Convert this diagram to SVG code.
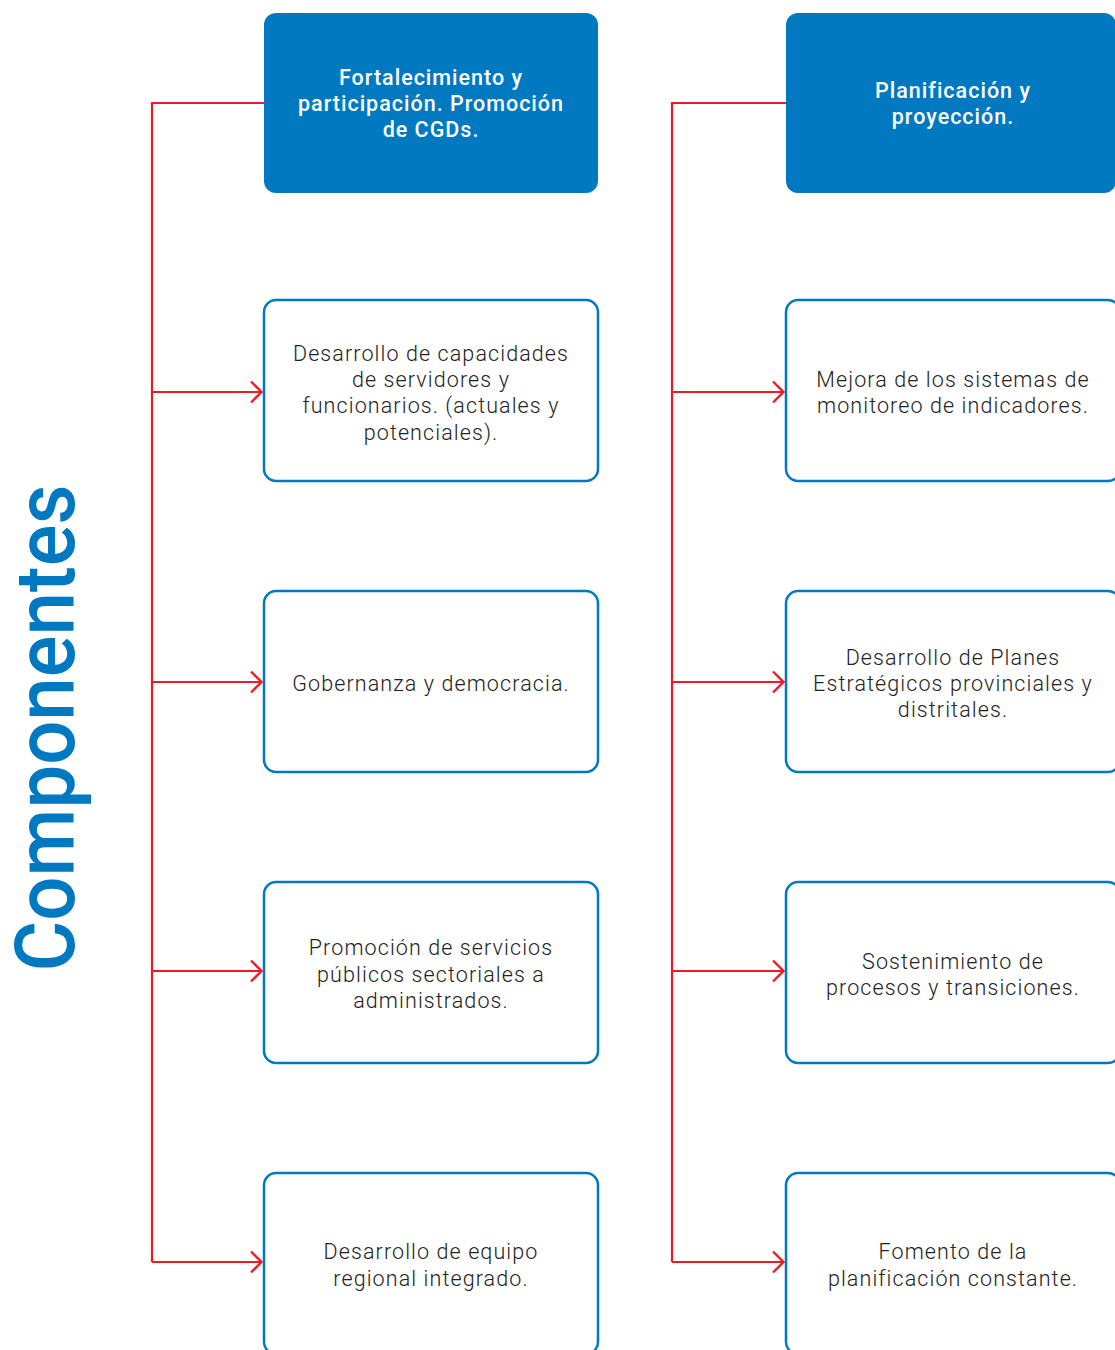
<svg xmlns="http://www.w3.org/2000/svg" width="1115" height="1350" viewBox="0 0 1115 1350">
<defs>
<style>
.hdr{fill:#0079C1;}
.box{fill:#fff;stroke:#0079C1;stroke-width:2.5;}
.ht{font-family:Roboto,"Liberation Sans",sans-serif;font-size:21.5px;font-weight:500;letter-spacing:1px;fill:#fff;text-anchor:middle;}
.bt{font-family:Roboto,"Liberation Sans",sans-serif;font-size:21.5px;font-weight:300;letter-spacing:1.1px;fill:#222;text-anchor:middle;}
.ln{fill:none;stroke:#EC1C24;stroke-width:2.2;}
.title{font-family:Roboto,"Liberation Sans",Arial,sans-serif;font-size:84px;font-weight:500;fill:#0079C1;text-anchor:middle;}
</style>
<marker id="arr" markerUnits="userSpaceOnUse" markerWidth="14" markerHeight="24" refX="12" refY="12" orient="auto">
<path d="M1,1.5 L11.5,12 L1,22.5" fill="none" stroke="#EC1C24" stroke-width="2.4"/>
</marker>
</defs>
<rect width="1115" height="1350" fill="#fff"/>
<text class="title" transform="translate(74,728) rotate(-90)" textLength="487" lengthAdjust="spacingAndGlyphs">Componentes</text>
<g id="connectors">
<path class="ln" d="M264,103 H152 V1262"/>
<path class="ln" d="M152,392 H262" marker-end="url(#arr)"/>
<path class="ln" d="M152,682 H262" marker-end="url(#arr)"/>
<path class="ln" d="M152,971 H262" marker-end="url(#arr)"/>
<path class="ln" d="M152,1262 H262" marker-end="url(#arr)"/>
<path class="ln" d="M786,103 H672 V1262"/>
<path class="ln" d="M672,392 H784" marker-end="url(#arr)"/>
<path class="ln" d="M672,682 H784" marker-end="url(#arr)"/>
<path class="ln" d="M672,971 H784" marker-end="url(#arr)"/>
<path class="ln" d="M672,1262 H784" marker-end="url(#arr)"/>
</g>
<g id="n-fortalecimiento">
<rect class="hdr" x="264" y="13" width="334" height="180" rx="12"/>
<text class="ht" x="431" y="85">Fortalecimiento y</text>
<text class="ht" x="431" y="111">participación. Promoción</text>
<text class="ht" x="431" y="137">de CGDs.</text>
</g>
<g id="n-capacidades">
<rect class="box" x="264" y="300" width="334" height="181" rx="12"/>
<text class="bt" x="431" y="361">Desarrollo de capacidades</text>
<text class="bt" x="431" y="387">de servidores y</text>
<text class="bt" x="431" y="413">funcionarios. (actuales y</text>
<text class="bt" x="431" y="440">potenciales).</text>
</g>
<g id="n-gobernanza">
<rect class="box" x="264" y="591" width="334" height="181" rx="12"/>
<text class="bt" x="431" y="691">Gobernanza y democracia.</text>
</g>
<g id="n-servicios">
<rect class="box" x="264" y="882" width="334" height="181" rx="12"/>
<text class="bt" x="431" y="955">Promoción de servicios</text>
<text class="bt" x="431" y="982">públicos sectoriales a</text>
<text class="bt" x="431" y="1008">administrados.</text>
</g>
<g id="n-equipo">
<rect class="box" x="264" y="1173" width="334" height="181" rx="12"/>
<text class="bt" x="431" y="1259">Desarrollo de equipo</text>
<text class="bt" x="431" y="1286">regional integrado.</text>
</g>
<g id="n-planificacion">
<rect class="hdr" x="786" y="13" width="330" height="180" rx="12"/>
<text class="ht" x="953" y="98">Planificación y</text>
<text class="ht" x="953" y="124">proyección.</text>
</g>
<g id="n-monitoreo">
<rect class="box" x="786" y="300" width="334" height="181" rx="12"/>
<text class="bt" x="953" y="387">Mejora de los sistemas de</text>
<text class="bt" x="953" y="413">monitoreo de indicadores.</text>
</g>
<g id="n-planes">
<rect class="box" x="786" y="591" width="334" height="181" rx="12"/>
<text class="bt" x="953" y="665">Desarrollo de Planes</text>
<text class="bt" x="953" y="691">Estratégicos provinciales y</text>
<text class="bt" x="953" y="717">distritales.</text>
</g>
<g id="n-sostenimiento">
<rect class="box" x="786" y="882" width="334" height="181" rx="12"/>
<text class="bt" x="953" y="969">Sostenimiento de</text>
<text class="bt" x="953" y="995">procesos y transiciones.</text>
</g>
<g id="n-fomento">
<rect class="box" x="786" y="1173" width="334" height="181" rx="12"/>
<text class="bt" x="953" y="1259">Fomento de la</text>
<text class="bt" x="953" y="1286">planificación constante.</text>
</g>
</svg>
